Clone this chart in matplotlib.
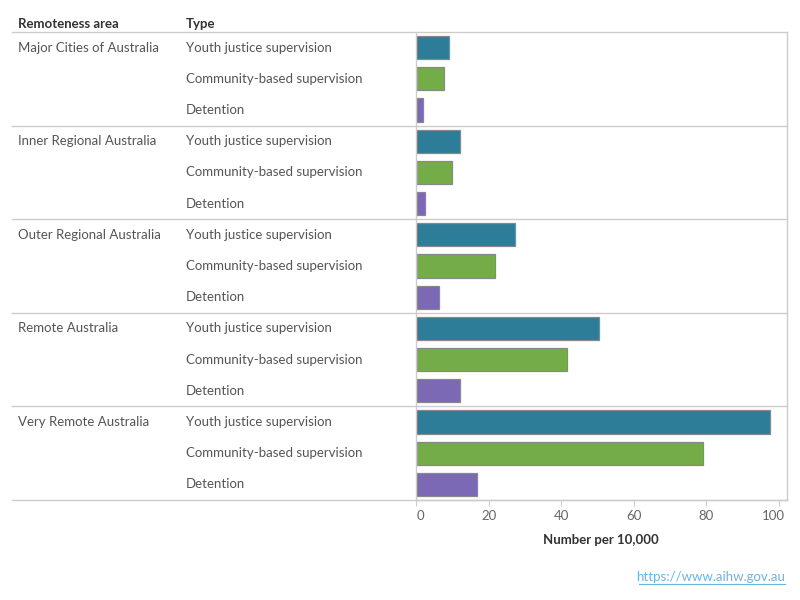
import matplotlib.pyplot as plt
import matplotlib.transforms as mtransforms

plt.rcParams['font.family'] = ['Lato', 'DejaVu Sans']

# Data
areas = ['Major Cities of Australia', 'Inner Regional Australia', 'Outer Regional Australia',
         'Remote Australia', 'Very Remote Australia']
types = ['Youth justice supervision', 'Community-based supervision', 'Detention']
youth_justice = [9.2, 12.2, 27.2, 50.3, 97.4]
community = [7.6, 9.8, 21.7, 41.5, 79.0]
detention = [2.0, 2.6, 6.4, 12.2, 16.9]
colors = ['#2e7d98', '#74ad48', '#7b69b5']

W, H = 800, 600
fig = plt.figure(figsize=(8, 6), dpi=100)
left, right, top, bottom = 416, 787, 32, 500
ax = fig.add_axes([left / W, 1 - bottom / H, (right - left) / W, (bottom - top) / H])

series = [youth_justice, community, detention]
for i, area in enumerate(areas):
    for j in range(3):
        ax.barh(i * 3 + j, series[j][i], height=0.74, color=colors[j],
                edgecolor='#888888', linewidth=0.9)

n = len(areas) * 3
ax.set_ylim(n - 0.5, -0.5)
ax.set_xlim(0, 102.2)
ax.set_xticks([0, 20, 40, 60, 80, 100])
ax.set_yticks([])
ax.tick_params(axis='x', colors='#cccccc', labelcolor='#666666', labelsize=9.5,
               length=4, width=0.8, pad=3)
for s in ax.spines.values():
    s.set_color('#cccccc')
    s.set_linewidth(1)
ax.spines['top'].set_visible(False)

# nudge end tick labels inward like the original
labels = ax.get_xticklabels()
labels[0].set_transform(labels[0].get_transform() +
                        mtransforms.ScaledTranslation(4 / 100, 0, fig.dpi_scale_trans))
labels[-1].set_transform(labels[-1].get_transform() +
                         mtransforms.ScaledTranslation(-6 / 100, 0, fig.dpi_scale_trans))

# separators across the whole table
x0 = (12 - left) / (right - left)
for k in range(len(areas) + 1):
    ax.axhline(k * 3 - 0.5, xmin=x0, xmax=1, color='#cccccc', linewidth=1, clip_on=False)

# row labels
tr = mtransforms.blended_transform_factory(fig.transFigure, ax.transData)
for i, area in enumerate(areas):
    ax.text(18 / W, i * 3, area, transform=tr, ha='left', va='center',
            fontsize=9.5, color='#555555')
    for j, t in enumerate(types):
        ax.text(186 / W, i * 3 + j, t, transform=tr, ha='left', va='center',
                fontsize=9.5, color='#555555')

# headers
fig.text(18 / W, 1 - 24 / H, 'Remoteness area', ha='left', va='center',
         fontsize=9.5, fontweight='bold', color='#333333')
fig.text(186 / W, 1 - 24 / H, 'Type', ha='left', va='center',
         fontsize=9.5, fontweight='bold', color='#333333')

# axis title
fig.text(601 / W, 1 - 540 / H, 'Number per 10,000', ha='center', va='center',
         fontsize=9.5, fontweight='bold', color='#333333')

# source
fig.text(785 / W, 1 - 577 / H, 'https://www.aihw.gov.au', ha='right', va='center',
         fontsize=9.5, color='#6cb4e0')
fig.add_artist(plt.Line2D([639 / W, 785 / W], [1 - 584 / H, 1 - 584 / H],
                          color='#6cb4e0', linewidth=0.8))

fig.savefig('out.png', dpi=100)
